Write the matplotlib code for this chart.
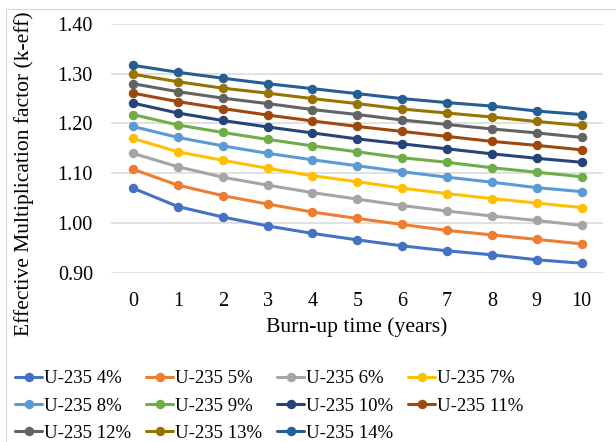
import matplotlib
matplotlib.use("Agg")
import matplotlib.pyplot as plt
from matplotlib.patches import Rectangle

plt.rcParams['font.family'] = ['Liberation Serif', 'DejaVu Serif']

# burn-up time (years)
years = [0, 1, 2, 3, 4, 5, 6, 7, 8, 9, 10]

# k-eff for each U-235 enrichment
k_4 = [1.070, 1.033, 1.012, 0.994, 0.979, 0.966, 0.954, 0.944, 0.936, 0.926, 0.919]
k_5 = [1.108, 1.076, 1.055, 1.038, 1.022, 1.009, 0.997, 0.985, 0.976, 0.967, 0.958]
k_6 = [1.140, 1.113, 1.092, 1.076, 1.061, 1.048, 1.035, 1.024, 1.014, 1.005, 0.995]
k_7 = [1.170, 1.143, 1.126, 1.110, 1.095, 1.083, 1.070, 1.059, 1.049, 1.040, 1.031]
k_8 = [1.194, 1.172, 1.155, 1.140, 1.127, 1.115, 1.103, 1.092, 1.082, 1.071, 1.063]
k_9 = [1.218, 1.197, 1.182, 1.168, 1.155, 1.143, 1.131, 1.122, 1.111, 1.102, 1.093]
k_10 = [1.241, 1.221, 1.206, 1.193, 1.181, 1.169, 1.159, 1.149, 1.139, 1.130, 1.122]
k_11 = [1.261, 1.244, 1.230, 1.217, 1.205, 1.194, 1.184, 1.174, 1.164, 1.156, 1.147]
k_12 = [1.280, 1.264, 1.251, 1.240, 1.228, 1.218, 1.207, 1.198, 1.189, 1.181, 1.172]
k_13 = [1.299, 1.284, 1.271, 1.261, 1.250, 1.240, 1.229, 1.221, 1.213, 1.204, 1.196]
k_14 = [1.317, 1.303, 1.291, 1.280, 1.270, 1.260, 1.250, 1.242, 1.235, 1.225, 1.218]

series = [k_4, k_5, k_6, k_7, k_8, k_9, k_10, k_11, k_12, k_13, k_14]
labels = ['U-235 4%', 'U-235 5%', 'U-235 6%', 'U-235 7%', 'U-235 8%', 'U-235 9%',
          'U-235 10%', 'U-235 11%', 'U-235 12%', 'U-235 13%', 'U-235 14%']
colors = ['#4472C4', '#ED7D31', '#A5A5A5', '#FFC000', '#5B9BD5', '#70AD47',
          '#264478', '#9E480E', '#636363', '#997300', '#255E91']

W, H = 616, 442
fig = plt.figure(figsize=(W / 100, H / 100), dpi=100)

# chart area border (Excel style)
fig.patches.append(Rectangle((6 / W, -0.1), 2, 1.1 - 9 / H, transform=fig.transFigure,
                             fill=False, edgecolor='#D9D9D9', lw=0.9))

ax = fig.add_axes([111 / W, 1 - 272.7 / H, (602.7 - 111) / W, (272.7 - 24) / H])

lines = []
for vals, lab, c in zip(series, labels, colors):
    ln, = ax.plot(years, vals, color=c, lw=2.2, marker='o', markersize=5.8,
                  label=lab, solid_capstyle='round')
    lines.append(ln)

ax.set_xlim(-0.49, 10.47)
ax.set_ylim(0.90, 1.40)
ax.set_yticks([0.90, 1.00, 1.10, 1.20, 1.30, 1.40])
ax.set_yticklabels(['%.2f' % v for v in ax.get_yticks()])
ax.set_xticks(years)
ax.grid(axis='y', color='#D9D9D9', lw=1.1)
ax.set_axisbelow(True)
for s in ax.spines.values():
    s.set_visible(False)
ax.tick_params(axis='y', length=0, pad=13, labelsize=14.5)
ax.tick_params(axis='x', length=0, pad=14, labelsize=14.5)

fig.text(357 / W, 1 - 327 / H, 'Burn-up time (years)', ha='center', va='center', fontsize=15.6)
fig.text(24 / W, 1 - 174 / H, 'Effective Multiplication factor (k-eff)', rotation=90,
         ha='center', va='center', fontsize=15.5)

# Excel fills the legend row by row; matplotlib fills by column
order = [0, 4, 8, 1, 5, 9, 2, 6, 10, 3, 7]
fig.legend([lines[i] for i in order], [labels[i] for i in order], ncol=4,
           loc='upper left', bbox_to_anchor=(15 / W, 1 - 370 / H), frameon=False,
           fontsize=13.5, handlelength=1.44, handletextpad=0.1, columnspacing=0.8,
           labelspacing=0.55, borderpad=0, borderaxespad=0, markerscale=1.0)

fig.savefig('out.png', dpi=100)
